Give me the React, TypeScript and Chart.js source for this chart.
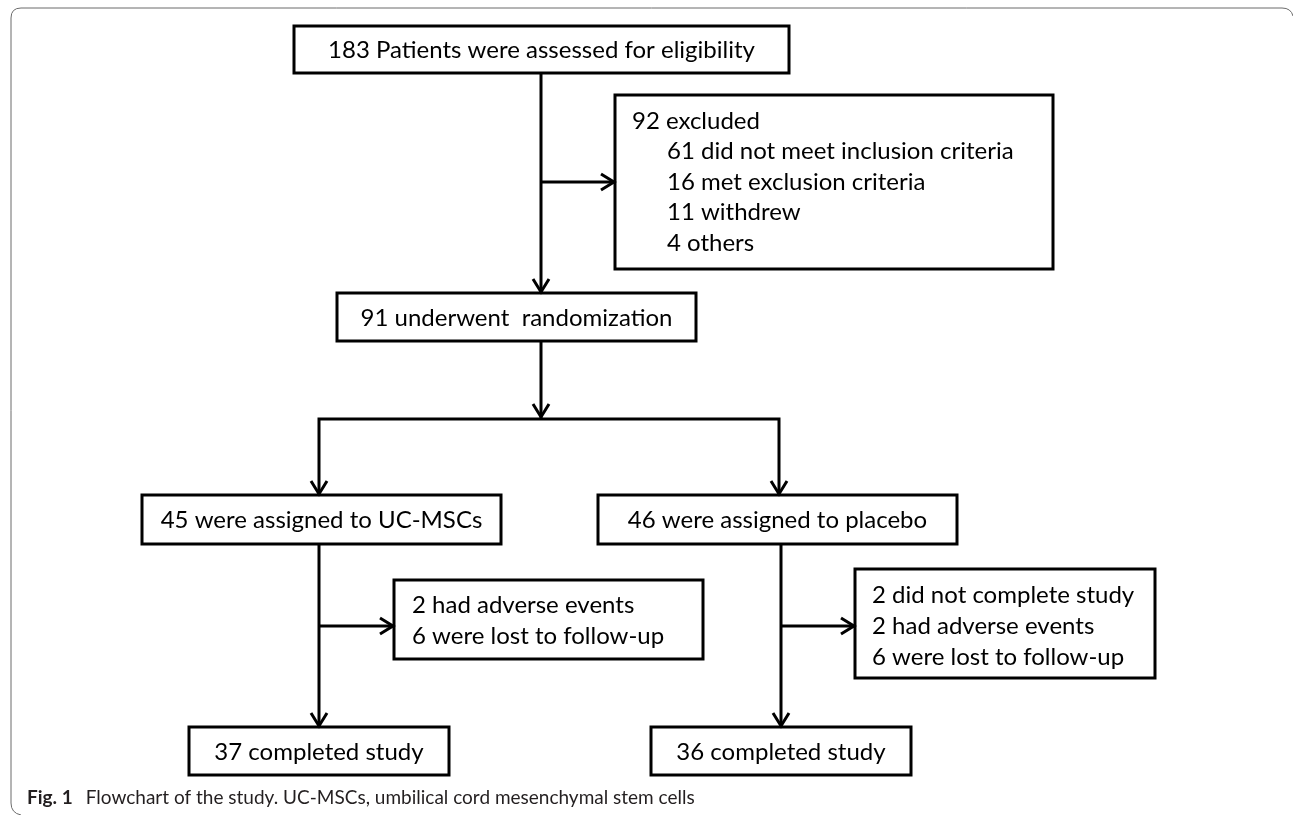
import React, { useEffect, useRef } from "react";
import { Chart, registerables } from "chart.js";

Chart.register(...registerables);

// ---- data (counts and labels) ----
const stageCounts = [183, 91, 45, 46, 37, 36];
const stageLabels = [
  "Patients were assessed for eligibility",
  "underwent  randomization",
  "were assigned to UC-MSCs",
  "were assigned to placebo",
  "completed study",
  "completed study",
];
const excludedTotal = [92];
const excludedCounts = [61, 16, 11, 4];
const excludedReasons = ["did not meet inclusion criteria", "met exclusion criteria", "withdrew", "others"];
const ucLossCounts = [2, 6];
const ucLossReasons = ["had adverse events", "were lost to follow-up"];
const placeboLossCounts = [2, 2, 6];
const placeboLossReasons = ["did not complete study", "had adverse events", "were lost to follow-up"];
const captionBold = "Fig. 1";
const captionText = "Flowchart of the study. UC-MSCs, umbilical cord mesenchymal stem cells";

// ---- layout (page-unit coordinates on hidden linear scales) ----
type Box = { x0: number; y0: number; x1: number; y1: number; lines: string[]; align: "center" | "left"; tx?: number[]; ty?: number[] };

const boxes: Box[] = [
  { x0: 294, y0: 26, x1: 789, y1: 73, lines: [`${stageCounts[0]} ${stageLabels[0]}`], align: "center" },
  {
    x0: 615, y0: 95, x1: 1053, y1: 269,
    lines: [`${excludedTotal[0]} excluded`, ...excludedCounts.map((c, i) => `${c} ${excludedReasons[i]}`)],
    align: "left", tx: [632, 667, 667, 667, 667], ty: [121, 151.5, 182, 212.5, 243],
  },
  { x0: 337, y0: 293, x1: 696, y1: 341, lines: [`${stageCounts[1]} ${stageLabels[1]}`], align: "center" },
  { x0: 142, y0: 495, x1: 501, y1: 544, lines: [`${stageCounts[2]} ${stageLabels[2]}`], align: "center" },
  { x0: 598, y0: 495, x1: 957, y1: 544, lines: [`${stageCounts[3]} ${stageLabels[3]}`], align: "center" },
  {
    x0: 394, y0: 580, x1: 703, y1: 659,
    lines: ucLossCounts.map((c, i) => `${c} ${ucLossReasons[i]}`),
    align: "left", tx: [412, 412], ty: [605, 636],
  },
  { x0: 189, y0: 727, x1: 449, y1: 775, lines: [`${stageCounts[4]} ${stageLabels[4]}`], align: "center" },
  {
    x0: 855, y0: 569, x1: 1155, y1: 678,
    lines: placeboLossCounts.map((c, i) => `${c} ${placeboLossReasons[i]}`),
    align: "left", tx: [872, 872, 872], ty: [595, 626, 657],
  },
  { x0: 651, y0: 727, x1: 911, y1: 775, lines: [`${stageCounts[5]} ${stageLabels[5]}`], align: "center" },
];

const connectors: { x: number; y: number }[][] = [
  [{ x: 541, y: 73 }, { x: 541, y: 293 }],
  [{ x: 541, y: 182 }, { x: 615, y: 182 }],
  [{ x: 541, y: 341 }, { x: 541, y: 419 }],
  [{ x: 319, y: 495 }, { x: 319, y: 419 }, { x: 779, y: 419 }, { x: 779, y: 495 }],
  [{ x: 319, y: 544 }, { x: 319, y: 727 }],
  [{ x: 319, y: 626 }, { x: 394, y: 626 }],
  [{ x: 781, y: 544 }, { x: 781, y: 727 }],
  [{ x: 781, y: 626 }, { x: 855, y: 626 }],
];

const arrowTips: { x: number; y: number; dir: "down" | "right" }[] = [
  { x: 541, y: 292, dir: "down" },
  { x: 614, y: 182, dir: "right" },
  { x: 541, y: 417, dir: "down" },
  { x: 319, y: 494, dir: "down" },
  { x: 779, y: 494, dir: "down" },
  { x: 393, y: 626, dir: "right" },
  { x: 319, y: 726, dir: "down" },
  { x: 854, y: 626, dir: "right" },
  { x: 781, y: 726, dir: "down" },
];

const BOX_FONT = "24px Lato, 'Open Sans', sans-serif";

const flowPlugin = {
  id: "flow",
  afterDatasetsDraw(chart: any) {
    const ctx = chart.ctx as CanvasRenderingContext2D;
    const xs = chart.scales.x;
    const ys = chart.scales.y;
    const px = (v: number) => xs.getPixelForValue(v);
    const py = (v: number) => ys.getPixelForValue(v);
    ctx.save();

    // frame
    ctx.strokeStyle = "#6b6b6b";
    ctx.lineWidth = 1;
    ctx.beginPath();
    ctx.moveTo(px(21), py(815));
    ctx.quadraticCurveTo(px(11), py(813), px(11), py(803));
    ctx.lineTo(px(11), py(18));
    ctx.quadraticCurveTo(px(11), py(8), px(21), py(8));
    ctx.lineTo(px(1282), py(8));
    ctx.quadraticCurveTo(px(1291), py(8), px(1293), py(16));
    ctx.stroke();

    // boxes
    ctx.lineWidth = 3;
    ctx.strokeStyle = "#000";
    ctx.lineJoin = "miter";
    for (const b of boxes) {
      ctx.fillStyle = "#fff";
      ctx.fillRect(px(b.x0), py(b.y0), px(b.x1) - px(b.x0), py(b.y1) - py(b.y0));
      ctx.strokeRect(px(b.x0), py(b.y0), px(b.x1) - px(b.x0), py(b.y1) - py(b.y0));
      ctx.fillStyle = "#000";
      ctx.font = BOX_FONT;
      ctx.textBaseline = "middle";
      if (b.align === "center") {
        ctx.textAlign = "center";
        ctx.fillText(b.lines[0], px((b.x0 + b.x1) / 2), py((b.y0 + b.y1) / 2) + 1);
      } else {
        ctx.textAlign = "left";
        b.lines.forEach((l, i) => ctx.fillText(l, px(b.tx![i]), py(b.ty![i])));
      }
    }

    // arrowheads (open V)
    ctx.lineWidth = 3;
    ctx.lineCap = "butt";
    for (const a of arrowTips) {
      const tx = px(a.x), ty = py(a.y);
      ctx.beginPath();
      if (a.dir === "down") {
        ctx.moveTo(tx - 8, ty - 13);
        ctx.lineTo(tx, ty);
        ctx.lineTo(tx + 8, ty - 13);
      } else {
        ctx.moveTo(tx - 13, ty - 8);
        ctx.lineTo(tx, ty);
        ctx.lineTo(tx - 13, ty + 8);
      }
      ctx.stroke();
    }

    // caption
    ctx.textAlign = "left";
    ctx.textBaseline = "alphabetic";
    ctx.fillStyle = "#231f20";
    ctx.font = "bold 19px Lato, sans-serif";
    const cx = px(27), cy = py(804);
    ctx.fillText(captionBold, cx, cy);
    const bw = ctx.measureText(captionBold).width;
    ctx.font = "19px Lato, sans-serif";
    ctx.fillText(captionText, cx + bw + 13, cy);
    ctx.restore();
  },
};

export default function App() {
  const ref = useRef<HTMLCanvasElement | null>(null);
  useEffect(() => {
    if (!ref.current) return;
    const chart = new Chart(ref.current, {
      type: "scatter",
      data: {
        datasets: connectors.map((pts) => ({
          data: pts,
          showLine: true,
          borderColor: "#000",
          borderWidth: 3,
          pointRadius: 0,
          fill: false,
          tension: 0,
          borderJoinStyle: "miter" as const,
        })),
      },
      options: {
        animation: false,
        responsive: true,
        maintainAspectRatio: false,
        layout: { padding: 0 },
        scales: {
          x: { type: "linear", min: 0, max: 1293, display: false },
          y: { type: "linear", min: 0, max: 815, reverse: true, display: false },
        },
        plugins: { legend: { display: false }, tooltip: { enabled: false } },
        events: [],
      },
      plugins: [flowPlugin],
    });
    return () => chart.destroy();
  }, []);
  return (
    <div style={{ position: "fixed", left: 0, top: 0, width: 1293, height: 815, background: "#fff" }}>
      <canvas ref={ref} />
    </div>
  );
}
